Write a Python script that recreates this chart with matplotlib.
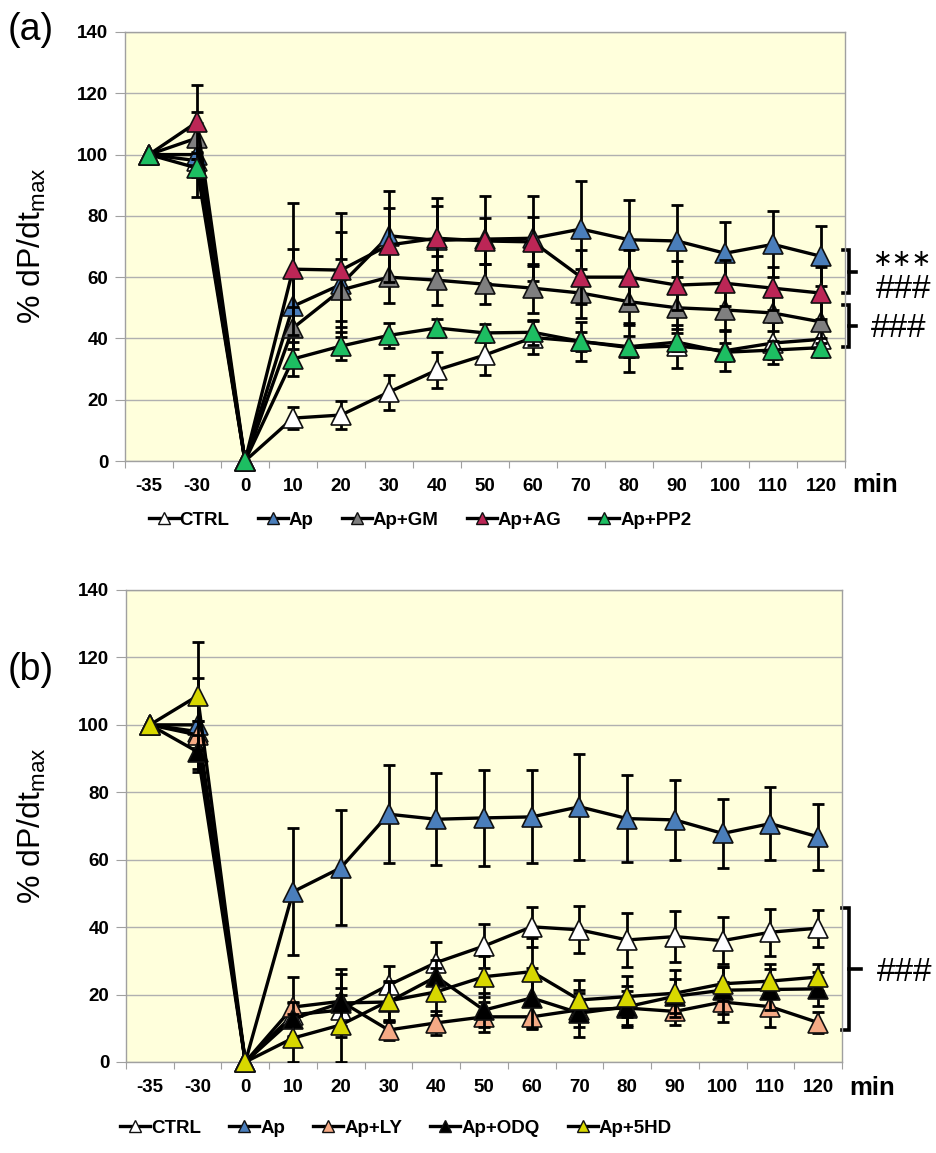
import matplotlib
matplotlib.use('Agg')
import matplotlib.pyplot as plt
from matplotlib.lines import Line2D
from matplotlib.transforms import blended_transform_factory
import numpy as np

# ---------------- data ----------------
time_labels = ['-35', '-30', '0', '10', '20', '30', '40', '50', '60',
               '70', '80', '90', '100', '110', '120']

# panel (a)
ctrl_a = [100, 98, 0, 14, 15, 22.5, 29.7, 34.6, 40.3, 39, 37, 37.5, 36, 38.5, 39.7]
ctrl_a_err = [0, 3, 0, 3.5, 4.6, 5.7, 6, 6.6, 5.5, 6.5, 8, 7, 6.5, 7, 5.5]
ap = [100, 100, 0, 50.5, 57.6, 73.5, 72, 72.4, 72.7, 75.7, 72.2, 71.8, 67.8, 70.7, 66.8]
ap_err = [0, 14, 0, 18.8, 17, 14.5, 13.7, 14.2, 13.8, 15.8, 13, 11.8, 10.3, 10.8, 9.8]
gm_a = [100, 105.4, 0, 43.4, 55.8, 60, 59, 57.7, 56.4, 54.8, 52, 50, 49.3, 48.3, 45.4]
gm_a_err = [0, 5, 0, 7, 10, 8.5, 8, 6.5, 8, 8, 7.5, 7, 6.5, 6, 7]
ag_a = [100, 110.6, 0, 62.6, 62.3, 70.5, 72.7, 71.8, 71.5, 60, 60, 57.4, 58, 56.4, 54.8]
ag_a_err = [0, 12, 0, 21.6, 18.7, 12, 10.5, 7.5, 8, 8.8, 8.8, 8, 7.5, 7, 8.5]
pp2_a = [100, 95.6, 0, 33.3, 37.5, 41, 43.4, 41.8, 42, 39, 37.3, 38.8, 35.5, 36.2, 37]
pp2_a_err = [0, 3, 0, 5.6, 4.5, 4, 3, 3, 4, 3, 3.5, 3, 3, 3, 3]

# panel (b)
ctrl_b = [100, 98, 0, 14, 15.4, 22.8, 29.5, 34.4, 40.1, 39.2, 36.2, 37.2, 36, 38.5, 39.7]
ctrl_b_err = [0, 3, 0, 3.5, 4.6, 5.7, 6, 6.6, 6, 7, 8, 7.5, 7, 7, 5.5]
ly_b = [100, 97, 0, 16.3, 18, 9.5, 11.6, 13.4, 13.4, 15.5, 16, 15, 17.8, 16.4, 11.7]
ly_b_err = [0, 4, 0, 9, 8, 3, 3.5, 4.5, 3.7, 5, 5, 4, 6, 6, 3]
odq_b = [100, 92, 0, 12.8, 17.5, 17.8, 25.3, 15.4, 19, 14.5, 16.4, 19.5, 21.3, 21.5, 21.7]
odq_b_err = [0, 5, 0, 5, 10, 6, 5, 5, 9, 7, 6, 5, 7, 6, 5]
hd_b = [100, 108.6, 0, 7.1, 11, 18.1, 20.8, 25.3, 26.8, 18.4, 19.4, 20.4, 23.2, 24, 25.2]
hd_b_err = [0, 16, 0, 7, 11, 6, 7, 6, 10, 6, 6, 7, 5, 5, 4]

names_a = ['CTRL', 'Ap', 'Ap+GM', 'Ap+AG', 'Ap+PP2']
names_b = ['CTRL', 'Ap', 'Ap+LY', 'Ap+ODQ', 'Ap+5HD']

# ---------------- style ----------------
C_CTRL = '#FFFFFF'
C_AP = '#4A7EBB'
C_GM = '#7F7F7F'
C_AG = '#BC2656'
C_PP2 = '#1DBE62'
C_LY = '#F5AA85'
C_ODQ = '#000000'
C_HD = '#D8D800'
BG = '#FFFFDC'
GRID = '#B0B0B0'

plt.rcParams['font.family'] = ['Liberation Sans', 'DejaVu Sans']
narrow = ['Liberation Sans Narrow', 'Liberation Sans', 'DejaVu Sans']

W, H = 936, 1153
fig = plt.figure(figsize=(W / 100, H / 100), dpi=100)


def axes_px(l, t, r, b):
    return fig.add_axes([l / W, 1 - b / H, (r - l) / W, (b - t) / H])


def style_axes(ax):
    ax.set_facecolor(BG)
    ax.set_xlim(-0.5, len(time_labels) - 0.5)
    ax.set_ylim(0, 140)
    ax.set_yticks(np.arange(0, 141, 20))
    ax.yaxis.grid(True, color=GRID, lw=1.0)
    ax.set_axisbelow(True)
    for s in ax.spines.values():
        s.set_color('#A0A0A0')
        s.set_linewidth(1.0)
    # boundary ticks (major) without labels, category labels on minor ticks
    ax.set_xticks(np.arange(-0.5, len(time_labels), 1.0))
    ax.set_xticklabels([])
    ax.set_xticks(np.arange(len(time_labels)), minor=True)
    ax.set_xticklabels(time_labels, minor=True, fontsize=13.5, fontweight='bold')
    ax.tick_params(axis='x', which='major', length=5, color='#A0A0A0', direction='out')
    ax.tick_params(axis='x', which='minor', length=0, pad=12)
    ax.tick_params(axis='y', length=7, color='#A0A0A0', direction='out', pad=5,
                   labelsize=13.5)
    for t in ax.get_yticklabels():
        t.set_fontweight('bold')
    ax.text(1.010, -0.056, 'min', transform=ax.transAxes, fontsize=18.5,
            fontweight='bold', ha='left', va='center')


def draw_series(ax, vals, errs, color, z):
    x = np.arange(len(vals))
    v = np.array(vals, float)
    e = np.array(errs, float)
    m = e > 0
    ax.errorbar(x[m], v[m], yerr=e[m], fmt='none', ecolor='black',
                elinewidth=2.0, capsize=4, capthick=2.0, zorder=z)
    ax.plot(x, v, color='black', lw=2.4, zorder=z + 0.2, clip_on=False)
    ax.plot(x, v, ls='none', marker='^', ms=14.5, mfc=color, mec='#111111',
            mew=1.2, zorder=z + 0.5, clip_on=False)


def bracket(ax, y0, y1, xv, xl, xt, lw=2.6):
    tr = blended_transform_factory(ax.transAxes, ax.transData)
    ym = (y0 + y1) / 2
    ax.plot([xl, xv, xv, xl], [y0, y0, y1, y1], color='black', lw=lw,
            transform=tr, clip_on=False, solid_joinstyle='miter')
    ax.plot([xv, xt], [ym, ym], color='black', lw=lw, transform=tr, clip_on=False)


def legend(handles_cols, names, cx, cy):
    handles = [Line2D([], [], color='black', lw=2.4, marker='^', ms=9,
                      mfc=c, mec='#111111', mew=1.0) for c in handles_cols]
    fig.legend(handles, names, loc='center', ncol=5,
               bbox_to_anchor=(cx / W, 1 - cy / H), frameon=False,
               handlelength=1.6, handletextpad=0.05, columnspacing=1.5,
               prop={'family': narrow, 'weight': 'bold', 'size': 13.5})


# ---------------- panel (a) ----------------
axa = axes_px(125, 32, 845, 461)
style_axes(axa)
series_a = [(ctrl_a, ctrl_a_err, C_CTRL), (ap, ap_err, C_AP), (gm_a, gm_a_err, C_GM),
            (ag_a, ag_a_err, C_AG), (pp2_a, pp2_a_err, C_PP2)]
for i, (v, e, c) in enumerate(series_a):
    draw_series(axa, v, e, c, 3 + i)

bracket(axa, 68.8, 54.8, 1.005, 0.997, 1.015)
bracket(axa, 50.9, 37.2, 1.005, 0.997, 1.015)
trA = blended_transform_factory(axa.transAxes, axa.transData)
axa.text(1.0795, 62.0, '\u2217\u2217\u2217', transform=trA, fontsize=17,
         family='DejaVu Sans', ha='center', va='bottom')
axa.text(1.081, 56.0, '###', transform=trA, fontsize=24, ha='center', va='center')
axa.text(1.075, 43.3, '###', transform=trA, fontsize=24, ha='center', va='center')

legend([s[2] for s in series_a], names_a, 420, 520)

# ---------------- panel (b) ----------------
axb = axes_px(126, 590, 842, 1062)
style_axes(axb)
series_b = [(ctrl_b, ctrl_b_err, C_CTRL), (ap, ap_err, C_AP), (ly_b, ly_b_err, C_LY),
            (odq_b, odq_b_err, C_ODQ), (hd_b, hd_b_err, C_HD)]
for i, (v, e, c) in enumerate(series_b):
    draw_series(axb, v, e, c, 3 + i)

bracket(axb, 45.7, 9.5, 1.010, 1.0, 1.026)
trB = blended_transform_factory(axb.transAxes, axb.transData)
axb.text(1.088, 26.4, '###', transform=trB, fontsize=24, ha='center', va='center')

legend([s[2] for s in series_b], names_b, 396, 1128)

# ---------------- labels ----------------
ylab = '% dP/dt$_{\\mathregular{max}}$'
fig.text(32 / W, 1 - 246 / H, ylab, rotation=90, fontsize=23, ha='center', va='center')
fig.text(32 / W, 1 - 826 / H, ylab, rotation=90, fontsize=23, ha='center', va='center')
fig.text(8 / W, 1 - 30 / H, '(a)', fontsize=27, ha='left', va='center')
fig.text(8 / W, 1 - 670 / H, '(b)', fontsize=27, ha='left', va='center')

fig.savefig('out.png', dpi=100)
